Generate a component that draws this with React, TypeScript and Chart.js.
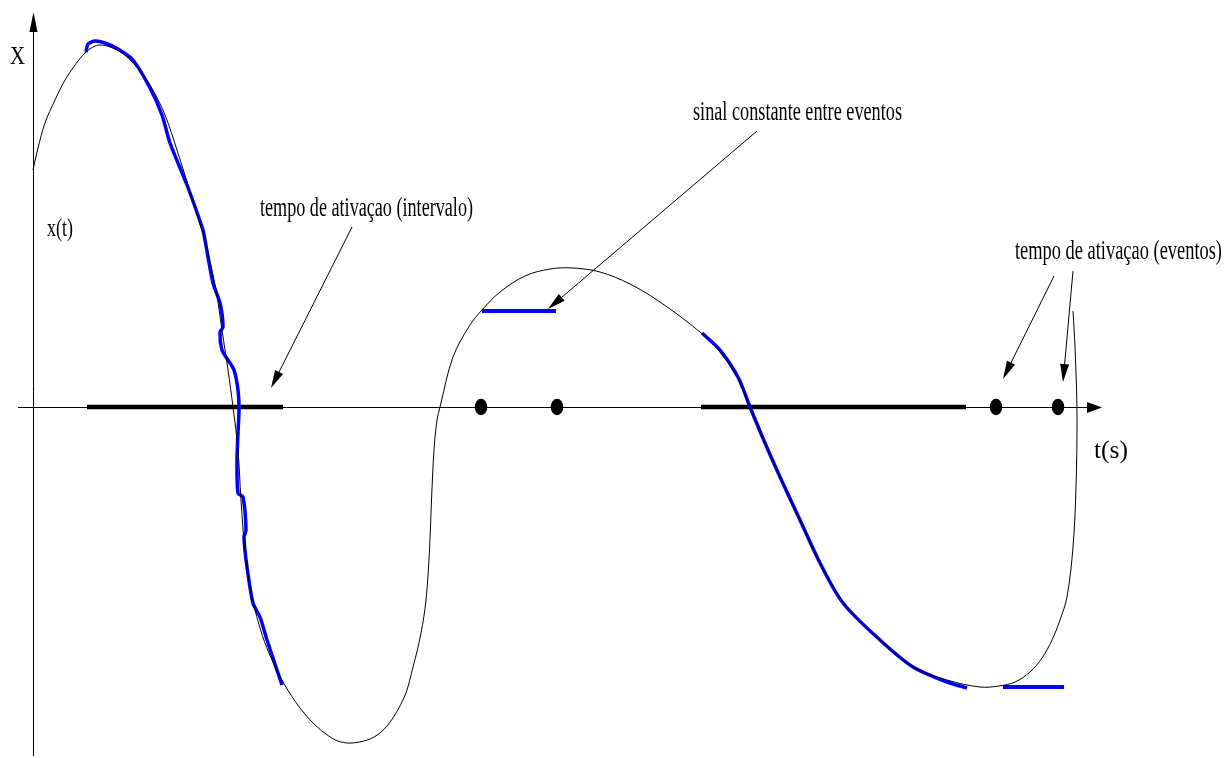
import React, { useEffect, useRef } from "react";
import { Chart, registerables } from "chart.js";

Chart.register(...registerables);

// Black continuous signal x(t)
const curveT = [0, 5, 12, 22, 32, 42, 52, 60, 67, 77, 89, 102, 117, 132, 144, 158, 173, 183, 189, 195, 200, 205, 208, 213, 222, 239, 267, 297, 319, 347, 370, 380, 388, 393, 396.5, 398.5, 401, 404, 407, 420, 437, 449, 467, 492, 517, 540, 567, 597, 627, 667, 687, 704, 717, 732, 747, 767, 787, 814, 847, 880, 914, 947, 966, 982, 997, 1009, 1019, 1027, 1034, 1040, 1043, 1044, 1042, 1040];
const curveX = [237, 259, 284, 307, 327, 342, 354, 360, 362, 360, 354, 342, 322, 292, 257, 212, 162, 117, 77, 37, 0, -43, -93, -153, -203, -253, -301, -330, -336, -326, -293, -260, -226, -193, -143, -93, -43, -13, 0, 50, 82, 97, 115, 131, 138, 139, 135, 123, 105, 75, 55, 30, 0, -36, -70, -113, -156, -200, -233, -260, -273, -280, -279, -275, -265, -251, -233, -213, -190, -140, -80, -6, 60, 96];

// Blue sampled/approximated signal pieces
const blue1T = [53, 55, 62, 72, 85, 100, 117, 129, 137, 154, 170, 172, 180, 187, 190, 187, 189, 195, 201, 205, 206, 205, 204, 205, 210, 213, 211, 214, 220, 227, 234, 249];
const blue1X = [355, 363, 366, 364, 358, 347, 319, 292, 264, 222, 177, 167, 124, 104, 80, 75, 57, 47, 37, 17, -3, -26, -53, -86, -90, -123, -130, -160, -196, -210, -233, -278];
const blue2T = [449, 523];
const blue2X = [96, 96];
const blue3T = [669, 687, 705, 717, 732, 747, 767, 787, 810, 847, 880, 914, 934];
const blue3X = [74, 57, 30, 0, -36, -70, -113, -156, -196, -233, -260, -275, -281];
const blue4T = [970, 1031];
const blue4X = [-280, -280];

// Activation intervals (thick black on the time axis)
const interval1T = [54, 250];
const interval2T = [668, 933];
// Activation events (dots on the time axis)
const eventT = [448, 524, 963, 1025];

// Annotation texts
const labelTexts = ["X", "x(t)", "tempo de ativaçao (intervalo)", "sinal constante entre eventos", "tempo de ativaçao (eventos)", "t(s)"];
const labelT = [-23, 14, 227, 660, 982, 1061];
const labelX = [343, 171, 191, 287, 148, -51];
const labelW = [15, 26, 213, 209, 207, 34];
const labelSize = [25, 25, 27, 27, 27, 25];

// Annotation arrows [fromT, fromX, toT, toX]
const arrowFromT = [319, 724, 1021, 1040];
const arrowFromX = [180, 276, 131, 136];
const arrowToT = [238, 515, 970, 1030];
const arrowToX = [19, 98, 28, 25];

const zip = (a: number[], b: number[]) => a.map((v, i) => ({ x: v, y: b[i] }));

function makeEllipse(): HTMLCanvasElement {
  const c = document.createElement("canvas");
  c.width = 14;
  c.height = 18;
  const g = c.getContext("2d")!;
  g.fillStyle = "#000";
  g.beginPath();
  g.ellipse(7, 9, 6.3, 8.3, 0, 0, Math.PI * 2);
  g.fill();
  return c;
}

function head(ctx: CanvasRenderingContext2D, x1: number, y1: number, x2: number, y2: number, len: number, half: number) {
  const a = Math.atan2(y2 - y1, x2 - x1);
  const bx = x2 - Math.cos(a) * len;
  const by = y2 - Math.sin(a) * len;
  ctx.beginPath();
  ctx.moveTo(x2, y2);
  ctx.lineTo(bx + Math.sin(a) * half, by - Math.cos(a) * half);
  ctx.lineTo(bx - Math.sin(a) * half, by + Math.cos(a) * half);
  ctx.closePath();
  ctx.fill();
}

const overlay = {
  id: "overlay",
  beforeDatasetsDraw(chart: any) {
    const { ctx, scales } = chart;
    const sx = (v: number) => scales.x.getPixelForValue(v);
    const sy = (v: number) => scales.y.getPixelForValue(v);
    ctx.save();
    ctx.strokeStyle = "#000";
    ctx.fillStyle = "#000";
    ctx.lineWidth = 1;
    // time axis
    ctx.beginPath();
    ctx.moveTo(sx(-15), sy(0) + 0.5);
    ctx.lineTo(sx(1058), sy(0) + 0.5);
    ctx.stroke();
    head(ctx, sx(1000), sy(0) + 0.5, sx(1069), sy(0) + 0.5, 15, 5.5);
    // value axis
    ctx.beginPath();
    ctx.moveTo(sx(0) + 0.5, sy(-349));
    ctx.lineTo(sx(0) + 0.5, sy(380));
    ctx.stroke();
    head(ctx, sx(0) + 0.5, sy(300), sx(0) + 0.5, sy(395), 20, 4);
    ctx.restore();
  },
  afterDatasetsDraw(chart: any) {
    const { ctx, scales } = chart;
    const sx = (v: number) => scales.x.getPixelForValue(v);
    const sy = (v: number) => scales.y.getPixelForValue(v);
    ctx.save();
    ctx.strokeStyle = "#000";
    ctx.fillStyle = "#000";
    ctx.lineWidth = 1;
    arrowFromT.forEach((_, i) => {
      const x1 = sx(arrowFromT[i]);
      const y1 = sy(arrowFromX[i]);
      const x2 = sx(arrowToT[i]);
      const y2 = sy(arrowToX[i]);
      const a = Math.atan2(y2 - y1, x2 - x1);
      ctx.beginPath();
      ctx.moveTo(x1, y1);
      ctx.lineTo(x2 - Math.cos(a) * 10, y2 - Math.sin(a) * 10);
      ctx.stroke();
      head(ctx, x1, y1, x2, y2, 18, 4.5);
    });
    ctx.textAlign = "left";
    ctx.textBaseline = "alphabetic";
    labelTexts.forEach((txt, i) => {
      ctx.font = `${labelSize[i]}px "Liberation Serif", "Times New Roman", serif`;
      const w = ctx.measureText(txt).width;
      const k = labelW[i] / w;
      ctx.save();
      ctx.translate(sx(labelT[i]), sy(labelX[i]));
      ctx.scale(k, 1);
      ctx.fillText(txt, 0, 0);
      ctx.restore();
    });
    ctx.restore();
  },
};

export default function App() {
  const ref = useRef<HTMLCanvasElement | null>(null);
  useEffect(() => {
    const prevMargin = document.body.style.margin;
    document.body.style.margin = "0";
    const ellipse = makeEllipse();
    const chart = new Chart(ref.current!, {
      type: "scatter",
      data: {
        datasets: [
          {
            data: zip(curveT, curveX),
            showLine: true,
            borderColor: "#000",
            borderWidth: 1,
            pointRadius: 0,
            tension: 0.35,
          },
          {
            data: zip(blue1T, blue1X),
            showLine: true,
            borderColor: "#0000ff",
            borderWidth: 3.5,
            pointRadius: 0,
            tension: 0.25,
          },
          {
            data: zip(blue2T, blue2X),
            showLine: true,
            borderColor: "#0000ff",
            borderWidth: 4,
            pointRadius: 0,
          },
          {
            data: zip(blue3T, blue3X),
            showLine: true,
            borderColor: "#0000ff",
            borderWidth: 3.5,
            pointRadius: 0,
            tension: 0.3,
          },
          {
            data: zip(blue4T, blue4X),
            showLine: true,
            borderColor: "#0000ff",
            borderWidth: 4,
            pointRadius: 0,
          },
          {
            data: interval1T.map((t) => ({ x: t, y: 0 })),
            showLine: true,
            borderColor: "#000",
            borderWidth: 4.5,
            pointRadius: 0,
          },
          {
            data: interval2T.map((t) => ({ x: t, y: 0 })),
            showLine: true,
            borderColor: "#000",
            borderWidth: 4.5,
            pointRadius: 0,
          },
          {
            data: eventT.map((t) => ({ x: t, y: 0 })),
            showLine: false,
            pointStyle: ellipse as any,
            pointRadius: 8,
            backgroundColor: "#000",
            borderColor: "#000",
          },
        ],
      },
      options: {
        animation: false,
        responsive: true,
        maintainAspectRatio: false,
        layout: { padding: 0, autoPadding: false },
        plugins: { legend: { display: false }, tooltip: { enabled: false }, title: { display: false } },
        events: [],
        scales: {
          x: { type: "linear", min: -33, max: 1198, display: false },
          y: { type: "linear", min: -351, max: 407, display: false },
        },
      },
      plugins: [overlay],
    });
    return () => {
      chart.destroy();
      document.body.style.margin = prevMargin;
    };
  }, []);
  return (
    <div style={{ position: "fixed", left: 0, top: 0, width: 1231, height: 758, background: "#fff" }}>
      <canvas ref={ref} />
    </div>
  );
}
